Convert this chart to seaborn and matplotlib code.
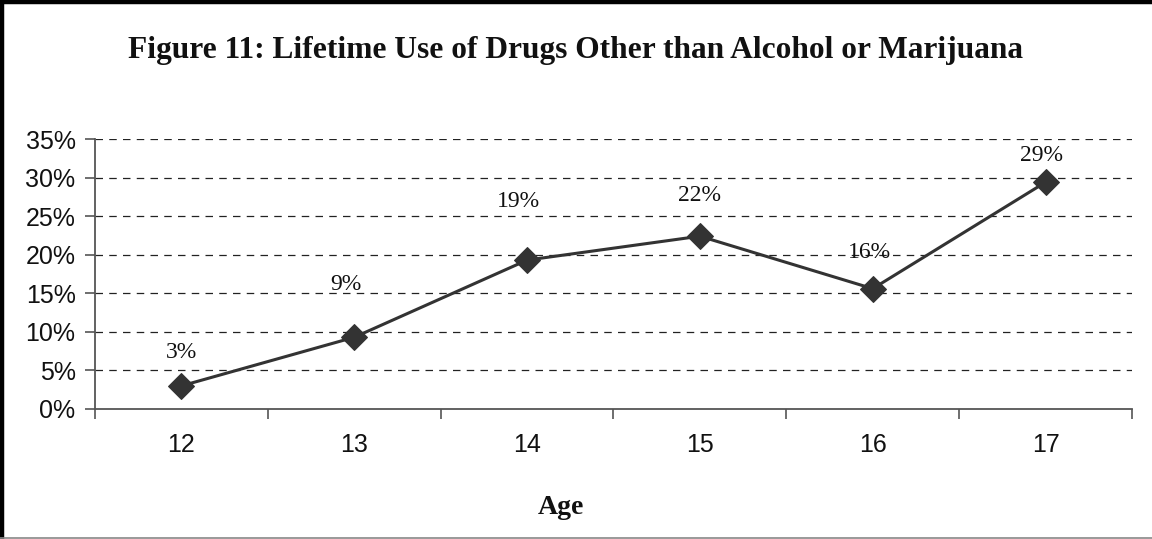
import matplotlib
matplotlib.use("Agg")
import matplotlib.pyplot as plt
from matplotlib.lines import Line2D
from matplotlib.ticker import FixedLocator, PercentFormatter
import seaborn as sns
import pandas as pd

ages = ["12", "13", "14", "15", "16", "17"]
pct_used = [3.0, 9.3, 19.3, 22.4, 15.6, 29.4]
y_ticks = [0, 5, 10, 15, 20, 25, 30, 35]

# label nudges (points) so text sits clear of the line
label_dx = [0, -6, -6, 0, -2, -3]
label_dy = [24, 38, 42, 29, 26, 19]

sns.set_theme(style="white")
plt.rcParams["font.family"] = ["Liberation Sans", "DejaVu Sans"]
serif = ["Liberation Serif", "DejaVu Serif"]

fig = plt.figure(figsize=(11.52, 5.39), dpi=100)
ax = fig.add_axes([0.0825, 0.2412, 0.9001, 0.5009])

df = pd.DataFrame({"pos": range(len(ages)), "pct": pct_used})
sns.lineplot(data=df, x="pos", y="pct", ax=ax, color="#333333", linewidth=2.2,
             marker="D", markersize=13, markeredgecolor="#333333",
             markerfacecolor="#333333", zorder=3)

for i, v in enumerate(pct_used):
    ax.annotate(f"{v:.0f}%", (i, v), xytext=(label_dx[i], label_dy[i]),
                textcoords="offset points", ha="center", va="center",
                fontsize=17, family=serif, color="#111111", zorder=4)

ax.set_xlim(-0.5, len(ages) - 0.5)
ax.set_ylim(0, 35)
ax.set_yticks(y_ticks)
ax.yaxis.set_major_formatter(PercentFormatter(decimals=0))
ax.set_xticks(range(len(ages)))
ax.set_xticklabels(ages)
ax.xaxis.set_minor_locator(FixedLocator([i - 0.5 for i in range(len(ages) + 1)]))

ax.tick_params(axis="x", which="major", length=0, labelsize=18, pad=17, labelcolor="#111111")
ax.tick_params(axis="x", which="minor", length=7, width=1.2, color="#555555", direction="out")
ax.tick_params(axis="y", which="major", length=7, width=1.2, color="#555555",
               direction="out", labelsize=18, pad=7, labelcolor="#111111")
ax.tick_params(bottom=True, left=True, which="both")
ax.tick_params(axis="x", which="major", bottom=False)

for yv in y_ticks[1:]:
    ax.axhline(yv, color="#222222", linewidth=0.9, linestyle=(0, (6, 5)), zorder=1)

for side in ("top", "right"):
    ax.spines[side].set_visible(False)
for side in ("left", "bottom"):
    ax.spines[side].set_color("#555555")
    ax.spines[side].set_linewidth(1.3)

ax.set_xlabel("")
ax.set_ylabel("")

fig.text(0.4995, 0.907, "Figure 11: Lifetime Use of Drugs Other than Alcohol or Marijuana",
         ha="center", va="center", fontsize=22.6, fontweight="bold",
         family=serif, color="#111111")
fig.text(0.487, 0.059, "Age", ha="center", va="center", fontsize=20,
         fontweight="bold", family=serif, color="#111111")

# frame: heavy top and left edges, light bottom edge
fig.add_artist(Line2D([0, 1], [0.997, 0.997], transform=fig.transFigure,
                      color="black", linewidth=3.2))
fig.add_artist(Line2D([0.0015, 0.0015], [0, 1], transform=fig.transFigure,
                      color="black", linewidth=3.2))
fig.add_artist(Line2D([0, 1], [0.001, 0.001], transform=fig.transFigure,
                      color="#888888", linewidth=1.2))

fig.savefig("out.png", dpi=100, facecolor="white")
